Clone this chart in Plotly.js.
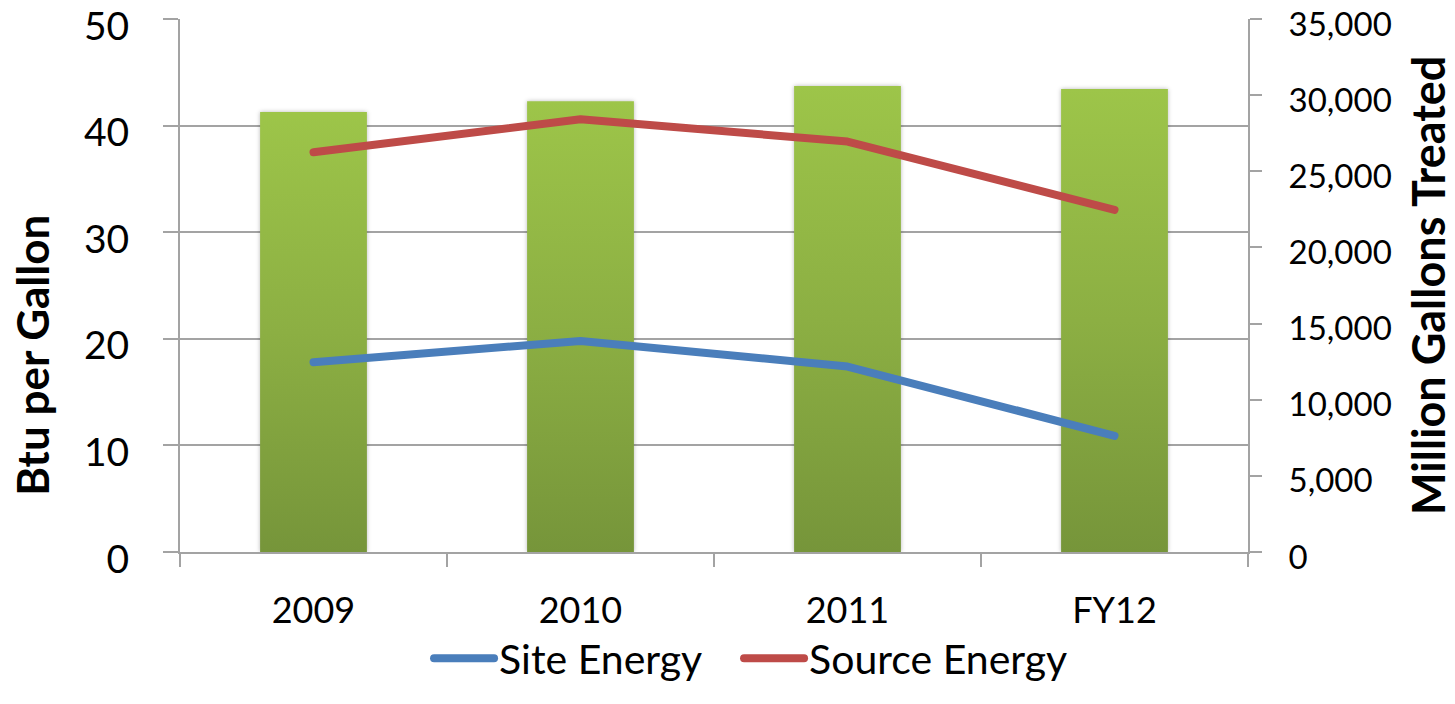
<!DOCTYPE html>
<html>
<head>
<meta charset="utf-8">
<script src="https://cdn.plot.ly/plotly-3.0.1.min.js"></script>
<style>
  html, body { margin: 0; padding: 0; background: #fff; }
  #chart { width: 1455px; height: 704px; }
  .scatterlayer .js-line { stroke-linecap: round; stroke-linejoin: round; }
  .legend .js-line { stroke-linecap: round; }
  .barlayer .point path { filter: drop-shadow(0px 0px 2px rgba(0,0,0,0.28)); }
</style>
</head>
<body>
<svg width="0" height="0" style="position:absolute">
  <defs>
    <linearGradient id="barGrad" x1="0" y1="0" x2="0" y2="1">
      <stop offset="0" stop-color="#9DC549"/>
      <stop offset="0.5" stop-color="#8CAF43"/>
      <stop offset="1" stop-color="#76953A"/>
    </linearGradient>
  </defs>
</svg>
<div id="chart"></div>
<script>
// ---- data ----
const categories = ["2009", "2010", "2011", "FY12"];
const gallonsTreated = [28900, 29600, 30600, 30400];   // Million Gallons Treated (right axis)
const siteEnergy = [17.8, 19.8, 17.4, 10.9];           // Btu per Gallon (left axis)
const sourceEnergy = [37.5, 40.6, 38.5, 32.1];         // Btu per Gallon (left axis)

const leftTicks = [0, 10, 20, 30, 40, 50];
const rightTicks = [0, 5000, 10000, 15000, 20000, 25000, 30000, 35000];

const FONT = "Lato, 'Open Sans', sans-serif";
const GRID = "#A3A3A3";

const traces = [
  {
    type: "bar", name: "Million Gallons Treated",
    x: categories, y: gallonsTreated,
    xaxis: "x", yaxis: "y",
    marker: { color: "#8CAF43", line: { width: 0 } },
    showlegend: false, hoverinfo: "skip"
  },
  {
    type: "scatter", mode: "lines", name: "Site Energy",
    x: categories, y: siteEnergy,
    xaxis: "x", yaxis: "y2",
    line: { color: "#4A7EBB", width: 8 }
  },
  {
    type: "scatter", mode: "lines", name: "Source Energy",
    x: categories, y: sourceEnergy,
    xaxis: "x", yaxis: "y2",
    line: { color: "#BE4B48", width: 8 }
  }
];

const layout = {
  width: 1455, height: 704,
  margin: { l: 180, r: 207, t: 19, b: 133, pad: 0 },
  paper_bgcolor: "#ffffff", plot_bgcolor: "#ffffff",
  font: { family: FONT, color: "#000000", size: 36 },
  bargap: 0.6,
  showlegend: true,
  legend: {
    orientation: "h", x: 0.2332, xanchor: "left", y: -0.2, yanchor: "middle",
    font: { family: FONT, size: 41, color: "#000" },
    bgcolor: "rgba(0,0,0,0)",
    itemwidth: 60, traceorder: "normal", tracegroupgap: 0,
    entrywidth: 235, entrywidthmode: "pixels"
  },
  xaxis: {
    type: "category",
    showline: true, linecolor: GRID, linewidth: 2,
    ticks: "outside", ticklen: 13, tickwidth: 2, tickcolor: GRID,
    tickson: "boundaries",
    showgrid: false, zeroline: false,
    tickfont: { family: FONT, size: 36, color: "#000" },
    ticklabelstandoff: 26
  },
  yaxis: {
    side: "right", range: [0, 35000],
    tickvals: rightTicks, tickformat: ",d",
    showline: true, linecolor: GRID, linewidth: 2,
    ticks: "outside", ticklen: 12, tickwidth: 2, tickcolor: GRID,
    showgrid: false, zeroline: false,
    tickfont: { family: FONT, size: 33, color: "#000" },
    ticklabelstandoff: 20, ticklabelshift: 5, ticklabeloverflow: "allow"
  },
  yaxis2: {
    overlaying: "y", side: "left", range: [0, 50],
    tickvals: leftTicks,
    showline: true, linecolor: GRID, linewidth: 2,
    ticks: "outside", ticklen: 15, tickwidth: 2, tickcolor: GRID,
    showgrid: true, gridcolor: GRID, gridwidth: 2,
    zeroline: false,
    tickfont: { family: FONT, size: 39, color: "#000" },
    ticklabelstandoff: 26, ticklabelshift: 7, ticklabeloverflow: "allow"
  },
  annotations: [
    {
      text: "<b>Btu per Gallon</b>", xref: "paper", yref: "paper",
      x: -0.1386, y: 0.37, xanchor: "center", yanchor: "middle",
      textangle: -90, showarrow: false,
      font: { family: FONT, size: 44, color: "#000" }
    },
    {
      text: "<b>Million Gallons Treated</b>", xref: "paper", yref: "paper",
      x: 1.1685, y: 0.501, xanchor: "center", yanchor: "middle",
      textangle: -90, showarrow: false,
      font: { family: FONT, size: 45, color: "#000" }
    }
  ]
};

function afterDraw() {
  document.querySelectorAll("#chart .barlayer .point path").forEach(p => {
    p.style.fill = "url(#barGrad)";
  });
  // let the last legend entry show in full (entrywidth only spaces the entries)
  document.querySelectorAll("#chart .legend .scrollbox, #chart .legend").forEach(el => {
    el.removeAttribute("clip-path");
  });
}

const gd = document.getElementById("chart");
Plotly.newPlot(gd, traces, layout, { displayModeBar: false, staticPlot: true }).then(() => {
  afterDraw();
  gd.on("plotly_afterplot", afterDraw);
});
</script>
</body>
</html>
